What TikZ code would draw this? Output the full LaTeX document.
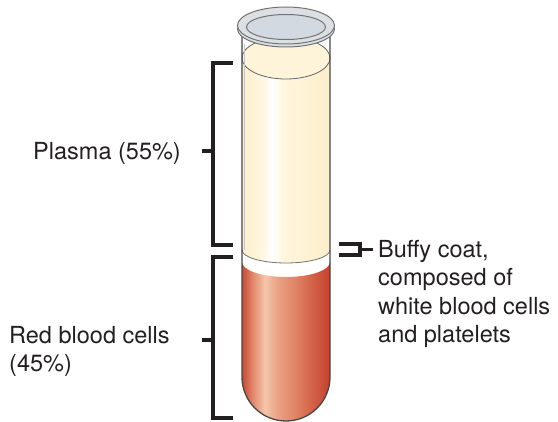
\documentclass[tikz,border=0pt]{standalone}
\usepackage{fontspec}
\setmainfont{TeX Gyre Heros}
\definecolor{plEdge}{HTML}{FCEECA}
\definecolor{plMid}{HTML}{FFF6DF}
\definecolor{plTop}{HTML}{FDF4DA}
\definecolor{rdL}{HTML}{C94A34}
\definecolor{rdA}{HTML}{E2876A}
\definecolor{rdHi}{HTML}{F4C6AC}
\definecolor{rdB}{HTML}{EBA285}
\definecolor{rdC}{HTML}{DC7A5B}
\definecolor{rdR}{HTML}{C53F2C}
\definecolor{rimFill}{HTML}{DCE0E5}
\definecolor{rimIn}{HTML}{D3D9E1}
\definecolor{txt}{HTML}{231F20}
\pgfdeclarehorizontalshading{plasmashade}{100bp}{color(0bp)=(plEdge); color(25bp)=(plEdge);
  color(36bp)=(plMid); color(42bp)=(white); color(48bp)=(plMid); color(75bp)=(plEdge); color(100bp)=(plEdge)}
\pgfdeclarehorizontalshading{redshade}{100bp}{color(0bp)=(rdL); color(25bp)=(rdL);
  color(31bp)=(rdA); color(38bp)=(rdHi); color(45bp)=(rdB); color(58bp)=(rdC); color(75bp)=(rdR); color(100bp)=(rdR)}
\begin{document}
\begin{tikzpicture}[x=1pt,y=-1pt,
  lbl/.style={font=\fontsize{23.5}{28.5}\selectfont, inner sep=0pt, text=txt},
  brk/.style={line width=3.2pt, draw=txt},
  wall/.style={draw=black!72, line width=1.3pt},
  rimline/.style={draw=black!55, line width=1pt}]
\useasboundingbox (0,0) rectangle (558,422);

% red cell layer, rounded bottom of the tube
\shade[shading=redshade] (242,262)
  arc[start angle=180, end angle=360, x radius=44pt, y radius=15pt]
  -- (330,377) arc[start angle=0, end angle=-180, radius=44pt] -- cycle;

% plasma column
\shade[shading=plasmashade] (242,58) -- (242,250)
  arc[start angle=180, end angle=360, x radius=44pt, y radius=13pt]
  -- (330,58) arc[start angle=0, end angle=180, x radius=44pt, y radius=21pt] -- cycle;
\draw[black!55, line width=0.8pt] (242,250)
  arc[start angle=180, end angle=360, x radius=44pt, y radius=13pt];
% plasma surface
\filldraw[fill=plTop, draw=black!60, line width=0.8pt] (286,58) ellipse[x radius=44pt, y radius=21pt];

% glass wall
\draw[black!22, line width=1.2pt] (244.6,44) -- (244.6,250);
\draw[wall] (242,30) -- (242,377) arc[start angle=180, end angle=360, radius=44pt] -- (330,30);

% rim of the tube
\filldraw[fill=rimFill, rimline] (286,29) ellipse[x radius=48.5pt, y radius=18pt];
\filldraw[fill=rimFill, rimline] (286,25.5) ellipse[x radius=48.5pt, y radius=18.5pt];
\filldraw[fill=rimIn, rimline] (286,27) ellipse[x radius=39.5pt, y radius=12.5pt];

% labels
\node[lbl, anchor=base east] (plasma) at (181,160) {Plasma (55\%)};
\node[lbl, anchor=north west, align=left] (rbc) at (9,326) {Red blood cells\\(45\%)};
\node[lbl, anchor=north west, align=left] (buffy) at (378,240) {Buffy coat,\\composed of\\white blood cells\\and platelets};

% brackets
\coordinate (plA) at (233,63);
\coordinate (plB) at (233,245);
\coordinate (plTick) at (202,151);
\draw[brk] (plA) -- (213,63) -- (213,245) -- (plB);
\draw[brk] (plTick) -- (213,151);

\coordinate (rbA) at (233,257);
\coordinate (rbB) at (233,418);
\coordinate (rbTick) at (202,340);
\draw[brk] (rbA) -- (213,257) -- (213,418) -- (rbB);
\draw[brk] (rbTick) -- (213,340);

\coordinate (bcA) at (339,244);
\coordinate (bcB) at (339,255);
\coordinate (bcTick) at (373,249.5);
\draw[brk] (bcA) -- (360,244) -- (360,255) -- (bcB);
\draw[brk] (360,249.5) -- (bcTick);
\end{tikzpicture}
\end{document}
